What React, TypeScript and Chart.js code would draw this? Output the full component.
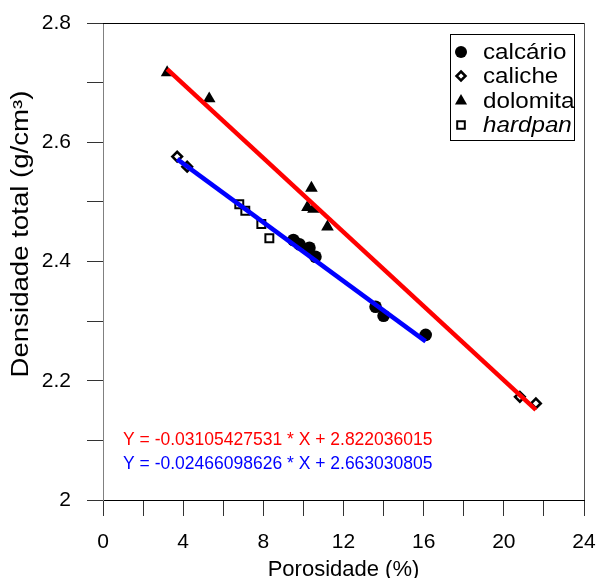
import React, { useEffect, useRef } from "react";
import { Chart, registerables } from "chart.js";

Chart.register(...registerables);

// ---- data ----
const calcarioX = [9.5, 9.8, 10.3, 10.6, 13.6, 14.0, 16.1];
const calcarioY = [2.436, 2.429, 2.423, 2.408, 2.324, 2.309, 2.277];

const calicheX = [3.7, 4.2, 20.8, 21.6];
const calicheY = [2.576, 2.559, 2.173, 2.162];

const dolomitaX = [3.2, 5.3, 10.4, 10.2, 10.5, 11.2];
const dolomitaY = [2.717, 2.673, 2.523, 2.491, 2.488, 2.458];

const hardpanX = [6.8, 7.1, 7.9, 8.3];
const hardpanY = [2.496, 2.485, 2.463, 2.439];

// regression line end points
const redLineX = [3.2, 21.6];
const redLineY = [2.7227, 2.1513];
const blueLineX = [3.7, 16.1];
const blueLineY = [2.5718, 2.266];

const seriesNames = ["calcário", "caliche", "dolomita", "hardpan"];
const redEquation = "Y = -0.03105427531 * X + 2.822036015";
const blueEquation = "Y = -0.02466098626 * X + 2.663030805";
const equationAnchorX = 1.0;
const redEquationY = 2.1;
const blueEquationY = 2.06;

const xTitle = "Porosidade (%)";
const yTitle = "Densidade total (g/cm³)";

const xMin = 0, xMax = 24, xStep = 2;
const yMin = 2, yMax = 2.8, yStep = 0.1;

const FONT = "'Liberation Sans', Arial, Helvetica, sans-serif";

const toPts = (xs: number[], ys: number[]) => xs.map((x, i) => ({ x, y: ys[i] }));

function drawMarker(ctx: CanvasRenderingContext2D, kind: string, x: number, y: number) {
  ctx.save();
  ctx.fillStyle = "#000";
  ctx.strokeStyle = "#000";
  if (kind === "circle") {
    ctx.beginPath();
    ctx.arc(x, y, 6, 0, Math.PI * 2);
    ctx.fill();
  } else if (kind === "diamond") {
    ctx.lineWidth = 2.5;
    ctx.fillStyle = "#fff";
    ctx.beginPath();
    ctx.moveTo(x, y - 4.5);
    ctx.lineTo(x + 4.5, y);
    ctx.lineTo(x, y + 4.5);
    ctx.lineTo(x - 4.5, y);
    ctx.closePath();
    ctx.fill();
    ctx.stroke();
  } else if (kind === "triangle") {
    const r = 7;
    ctx.beginPath();
    ctx.moveTo(x, y - r);
    ctx.lineTo(x + r * 0.866, y + r * 0.5);
    ctx.lineTo(x - r * 0.866, y + r * 0.5);
    ctx.closePath();
    ctx.fill();
  } else {
    ctx.lineWidth = 2;
    ctx.fillStyle = "#fff";
    ctx.beginPath();
    ctx.rect(x - 3.8, y - 3.8, 7.6, 7.6);
    ctx.fill();
    ctx.stroke();
  }
  ctx.restore();
}

const overlayPlugin = {
  id: "overlay",
  afterDraw(chart: any) {
    const { ctx, chartArea } = chart;
    const { left, right, top, bottom } = chartArea;
    ctx.save();
    // frame: top and right
    ctx.lineWidth = 1;
    ctx.strokeStyle = "#000";
    ctx.beginPath();
    ctx.moveTo(left, Math.round(top) + 0.5);
    ctx.lineTo(Math.round(right) + 1, Math.round(top) + 0.5);
    ctx.stroke();
    ctx.strokeStyle = "#555";
    ctx.beginPath();
    ctx.moveTo(Math.round(right) + 0.5, top);
    ctx.lineTo(Math.round(right) + 0.5, bottom);
    ctx.stroke();

    // legend
    const lx = 450, ly = 34, lw = 124, lh = 106;
    ctx.strokeStyle = "#000";
    ctx.strokeRect(lx + 0.5, ly + 0.5, lw, lh);
    const kinds = ["circle", "diamond", "triangle", "square"];
    const rows = [52, 76, 101, 125];
    ctx.textBaseline = "middle";
    ctx.textAlign = "left";
    seriesNames.forEach((name, i) => {
      drawMarker(ctx, kinds[i], 461, rows[i]);
      ctx.save();
      ctx.font = (i === 3 ? "italic " : "") + "22px " + FONT;
      ctx.fillStyle = "#000";
      ctx.translate(483, rows[i] + 1);
      ctx.scale(1.1, 1);
      ctx.fillText(name, 0, 0);
      ctx.restore();
    });

    // equations
    const xs = chart.scales.x, ys = chart.scales.y;
    ctx.font = "17.5px " + FONT;
    ctx.fillStyle = "#ff0000";
    ctx.fillText(redEquation, xs.getPixelForValue(equationAnchorX), ys.getPixelForValue(redEquationY));
    ctx.fillStyle = "#0000ff";
    ctx.fillText(blueEquation, xs.getPixelForValue(equationAnchorX), ys.getPixelForValue(blueEquationY));

    // axis titles
    ctx.fillStyle = "#000";
    ctx.font = "22px " + FONT;
    ctx.textAlign = "center";
    ctx.textBaseline = "middle";
    ctx.fillText(xTitle, (left + right) / 2, 570);
    ctx.save();
    ctx.font = "23px " + FONT;
    ctx.translate(22, 234);
    ctx.rotate(-Math.PI / 2);
    ctx.scale(1.2, 1);
    ctx.fillText(yTitle, 0, 0);
    ctx.restore();
    ctx.restore();
  },
};

export default function App() {
  const ref = useRef<HTMLCanvasElement | null>(null);

  useEffect(() => {
    if (!ref.current) return;
    const tickFont = { family: FONT, size: 21 };
    const chart = new Chart(ref.current, {
      type: "scatter",
      data: {
        datasets: [
          {
            type: "line",
            label: "red fit",
            data: toPts(redLineX, redLineY),
            borderColor: "#ff0000",
            borderWidth: 4.5,
            pointRadius: 0,
            showLine: true,
            fill: false,
            order: 0,
          },
          {
            type: "line",
            label: "blue fit",
            data: toPts(blueLineX, blueLineY),
            borderColor: "#0000ff",
            borderWidth: 4.5,
            pointRadius: 0,
            showLine: true,
            fill: false,
            order: 0,
          },
          {
            label: seriesNames[0],
            data: toPts(calcarioX, calcarioY),
            pointStyle: "circle",
            pointRadius: 6.3,
            backgroundColor: "#000",
            borderColor: "#000",
            borderWidth: 0,
            order: 1,
          },
          {
            label: seriesNames[1],
            data: toPts(calicheX, calicheY),
            pointStyle: "rectRot",
            pointRadius: 4.8,
            backgroundColor: "#fff",
            borderColor: "#000",
            borderWidth: 2.6,
            order: 1,
          },
          {
            label: seriesNames[2],
            data: toPts(dolomitaX, dolomitaY),
            pointStyle: "triangle",
            pointRadius: 7.3,
            backgroundColor: "#000",
            borderColor: "#000",
            borderWidth: 0,
            order: 1,
          },
          {
            label: seriesNames[3],
            data: toPts(hardpanX, hardpanY),
            pointStyle: "rect",
            pointRadius: 5.6,
            backgroundColor: "#fff",
            borderColor: "#000",
            borderWidth: 2,
            order: 1,
          },
        ],
      },
      options: {
        responsive: false,
        animation: false,
        layout: { padding: { top: 23, right: 15, left: 0, bottom: 0 } },
        plugins: { legend: { display: false }, tooltip: { enabled: false } },
        scales: {
          x: {
            type: "linear",
            min: xMin,
            max: xMax,
            afterFit: (s: any) => {
              s.height = 78;
              s.paddingLeft = 0;
              s.paddingRight = 0;
            },
            ticks: {
              stepSize: xStep,
              autoSkip: false,
              maxRotation: 0,
              padding: 14,
              color: "#000",
              font: tickFont,
              callback: (v: any, i: number) => (i % 2 === 0 ? String(Math.round(Number(v))) : ""),
            },
            grid: { drawOnChartArea: false, drawTicks: true, tickLength: 16, color: "#333" },
            border: { display: true, color: "#000", width: 1 },
          },
          y: {
            type: "linear",
            min: yMin,
            max: yMax,
            afterFit: (s: any) => {
              s.width = 103;
              s.paddingTop = 0;
              s.paddingBottom = 0;
            },
            ticks: {
              stepSize: yStep,
              autoSkip: false,
              padding: 16,
              color: "#000",
              font: tickFont,
              callback: (v: any, i: number) => {
                if (i % 2 !== 0) return "";
                const n = Math.round(Number(v) * 10) / 10;
                return String(n);
              },
            },
            grid: { drawOnChartArea: false, drawTicks: true, tickLength: 16, color: "#333" },
            border: { display: true, color: "#808080", width: 1 },
          },
        },
      },
      plugins: [overlayPlugin],
    } as any);
    return () => chart.destroy();
  }, []);

  return (
    <div style={{ position: "absolute", left: 0, top: 0, width: 599, height: 578, background: "#fff" }}>
      <canvas ref={ref} width={599} height={578} style={{ display: "block", width: 599, height: 578 }} />
    </div>
  );
}
